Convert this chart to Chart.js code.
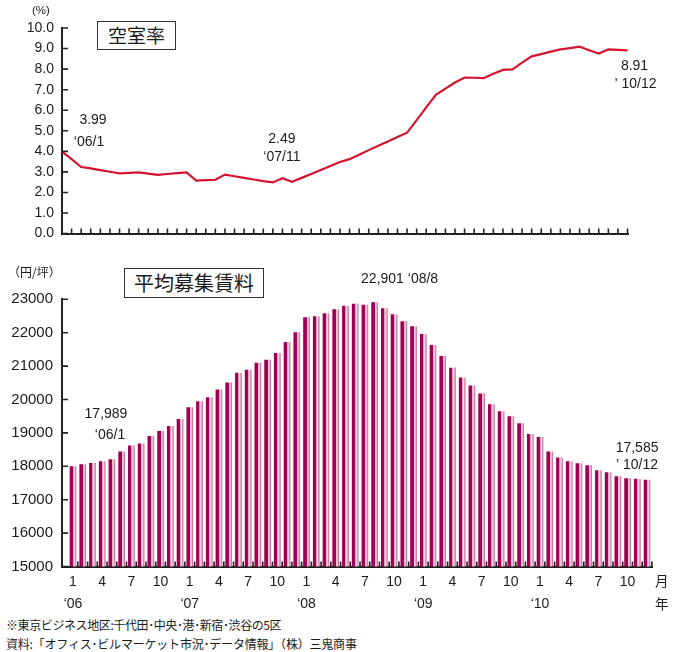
<!DOCTYPE html>
<html lang="ja">
<head>
<meta charset="utf-8">
<title>空室率・平均募集賃料</title>
<script src="https://cdn.jsdelivr.net/npm/chart.js@4"></script>
<style>
    body { margin:0; background:#fff; width:678px; height:652px; position:relative; overflow:hidden;
           font-family:"Liberation Sans", Arial, sans-serif; color:#1a1a1a; }
    canvas { position:absolute; left:0; }
    #vac-chart  { top:0; }
    #rent-chart { top:255px; }
    .txt  { position:absolute; white-space:nowrap; line-height:1; }
    .jp   { font-family:"Noto Sans CJK JP", sans-serif; }
    .box  { position:absolute; box-sizing:border-box; border:1.5px solid #333; background:#fff;
            font-family:"Noto Sans CJK JP", sans-serif; text-align:center; }
</style>
</head>
<body>

<canvas id="vac-chart"  width="678" height="250"></canvas>
<canvas id="rent-chart" width="678" height="360"></canvas>

<div class="txt" style="left:32px; top:5px; font-size:11.5px;">(%)</div>
<div class="box" style="left:97px; top:21px; width:79px; height:29px; font-size:19px; line-height:26px;">空室率</div>

<div class="txt jp" style="left:8px; top:266px; font-size:12px;">（円/坪）</div>
<div class="box" style="left:124px; top:268px; width:140px; height:30px; font-size:20px; line-height:27px;">平均募集賃料</div>

<div class="txt jp" style="left:655px; top:574px; font-size:13.5px;">月</div>
<div class="txt jp" style="left:655px; top:597px; font-size:13.5px;">年</div>

<div class="txt jp" style="left:6px; top:619px; font-size:12px; letter-spacing:-0.4px;">※東京ビジネス地区:千代田･中央･港･新宿･渋谷の5区</div>
<div class="txt jp" style="left:6px; top:638px; font-size:12px; letter-spacing:-0.2px;">資料:「オフィス･ビルマーケット市況･データ情報」（株）三鬼商事</div>

<script>
// ── Periods: '06/1 … '10/12 ──
const years   = ['06', '07', '08', '09', '10'];
const months  = [1, 2, 3, 4, 5, 6, 7, 8, 9, 10, 11, 12];
const periods = years.flatMap(y => months.map(m => ({ y, m })));

// 空室率 (%)
const vacancy = [
    3.99, 3.62, 3.24, 3.17, 3.09, 3.01, 2.93, 2.95, 2.98, 2.92, 2.86, 2.90,
    2.94, 2.98, 2.58, 2.60, 2.62, 2.87, 2.79, 2.71, 2.63, 2.55, 2.49, 2.69,
    2.52, 2.71, 2.90, 3.09, 3.29, 3.48, 3.62, 3.84, 4.06, 4.27, 4.48, 4.70,
    4.91, 5.52, 6.14, 6.75, 7.05, 7.35, 7.59, 7.58, 7.56, 7.78, 7.96, 7.99,
    8.32, 8.62, 8.73, 8.85, 8.96, 9.02, 9.09, 8.92, 8.76, 8.96, 8.94, 8.91,
];

// 平均募集賃料 (円/坪)
const rent = [
    17989, 18050, 18090, 18140, 18200, 18430, 18610, 18670, 18900, 19050, 19200, 19410,
    19760, 19940, 20060, 20290, 20500, 20790, 20880, 21090, 21180, 21380, 21710, 22000,
    22450, 22480, 22570, 22690, 22800, 22860, 22830, 22901, 22720, 22540, 22330, 22180,
    21950, 21620, 21290, 20940, 20650, 20410, 20170, 19850, 19640, 19490, 19280, 18960,
    18870, 18430, 18250, 18140, 18080, 18020, 17870, 17810, 17690, 17630, 17620, 17585,
];

// axis ranges / label positions
const vacancyRange = [0, 10, 1];
const rentRange    = [15000, 23000, 1000];
const monthLabelIdx = [0, 3, 6, 9, 12, 15, 18, 21, 24, 27, 30, 33, 36, 39, 42, 45, 48, 51, 54, 57];

const AXIS = '#222';
const LINE = '#d2142f';
const TEXT = '#1a1a1a';

Chart.defaults.font.family = '"Liberation Sans", Arial, sans-serif';
Chart.defaults.color = TEXT;
Chart.defaults.animation = false;

const periodText = (i, lead = '\u2018') => `${lead}${periods[i].y}/${periods[i].m}`;

// ── Plugins ──
// short tick marks pointing into the plot
const innerTicks = {
    id: 'innerTicks',
    afterDraw(chart, args, opts) {
        const { ctx, chartArea: a, scales: { x, y } } = chart;
        ctx.save();
        ctx.strokeStyle = AXIS;
        ctx.lineWidth = 1.6;
        ctx.beginPath();
        y.ticks.forEach(t => {
            const py = y.getPixelForValue(t.value);
            ctx.moveTo(a.left, py);
            ctx.lineTo(a.left + 6, py);
        });
        opts.xMarks.forEach(v => {
            const px = x.getPixelForValue(v);
            ctx.moveTo(px, a.bottom);
            ctx.lineTo(px, a.bottom - 5);
        });
        ctx.stroke();
        ctx.restore();
    },
};

// value / period callouts next to chosen points
const callouts = {
    id: 'callouts',
    afterDraw(chart, args, opts) {
        const { ctx, scales: { x, y } } = chart;
        const pts = chart.data.datasets[0].data;
        ctx.save();
        ctx.font = '14px "Liberation Sans", Arial, sans-serif';
        ctx.fillStyle = TEXT;
        ctx.textAlign = 'center';
        ctx.textBaseline = 'middle';
        opts.notes.forEach(n => {
            const px = x.getPixelForValue(n.i);
            const py = y.getPixelForValue(pts[n.i].y);
            n.lines.forEach(l => ctx.fillText(l.text, px + l.dx, py + l.dy));
        });
        ctx.restore();
    },
};

// ── 空室率 ──
new Chart(document.getElementById('vac-chart'), {
    type: 'line',
    data: {
        datasets: [{
            data: vacancy.map((v, i) => ({ x: i, y: v })),
            borderColor: LINE,
            borderWidth: 2.2,
            pointRadius: 0,
            tension: 0,
        }],
    },
    options: {
        responsive: false,
        layout: { padding: { top: 28, right: 50, left: 0, bottom: 0 } },
        plugins: {
            legend: { display: false },
            tooltip: { enabled: false },
            innerTicks: { xMarks: periods.map((p, i) => i).slice(1) },
            callouts: {
                notes: [
                    { i: 0,  lines: [{ text: vacancy[0].toFixed(2),  dx: 31, dy: -31 }, { text: periodText(0),  dx: 27, dy: -9 }] },
                    { i: 22, lines: [{ text: vacancy[22].toFixed(2), dx: 9,  dy: -43 }, { text: periodText(22), dx: 9,  dy: -25 }] },
                    { i: 59, lines: [{ text: vacancy[59].toFixed(2), dx: 7,  dy: 16 },  { text: periodText(59, '\u2019 '), dx: 8, dy: 34 }] },
                ],
            },
        },
        scales: {
            x: {
                type: 'linear', min: 0, max: 59.05, offset: false,
                grid: { display: false, drawTicks: false },
                ticks: { display: false },
                border: { color: AXIS, width: 2 },
                afterFit: s => { s.height = 13; },
            },
            y: {
                min: vacancyRange[0], max: vacancyRange[1],
                grid: { display: false, drawTicks: false },
                border: { color: AXIS, width: 2 },
                ticks: { stepSize: vacancyRange[2], padding: 8, font: { size: 14 }, callback: v => v.toFixed(1) },
                afterFit: s => { s.width = 62; },
            },
        },
    },
    plugins: [innerTicks, callouts],
});

// ── 平均募集賃料 ──
// two-tone bar: dark magenta left half, light pink right half with a highlight
function barFill(c) {
    const xs = c.chart.scales.x;
    const cx = xs && c.parsed ? xs.getPixelForValue(c.parsed.x) : NaN;
    if (!Number.isFinite(cx)) return '#ab005c';
    const g = c.chart.ctx.createLinearGradient(cx - 3, 0, cx + 3, 0);
    g.addColorStop(0,    '#98004f');
    g.addColorStop(0.5,  '#ab005c');
    g.addColorStop(0.5,  '#df94b6');
    g.addColorStop(0.72, '#f6dbe7');
    g.addColorStop(1,    '#c56a95');
    return g;
}

new Chart(document.getElementById('rent-chart'), {
    type: 'bar',
    data: {
        datasets: [{
            data: rent.map((v, i) => ({ x: i, y: v })),
            backgroundColor: barFill,
            barThickness: 6,
        }],
    },
    options: {
        responsive: false,
        layout: { padding: { top: 44.3, right: 26, left: 0, bottom: 0 } },
        plugins: {
            legend: { display: false },
            tooltip: { enabled: false },
            innerTicks: { xMarks: periods.map((p, i) => i + 0.5) },
            callouts: {
                notes: [
                    { i: 0,  lines: [{ text: rent[0].toLocaleString('en-US'), dx: 33, dy: -53 }, { text: periodText(0), dx: 37, dy: -32 }] },
                    { i: 31, lines: [{ text: `${rent[31].toLocaleString('en-US')} ${periodText(31)}`, dx: 25, dy: -23 }] },
                    { i: 59, lines: [{ text: rent[59].toLocaleString('en-US'), dx: -10, dy: -32 }, { text: periodText(59, '\u2019 '), dx: -10, dy: -15 }] },
                ],
            },
        },
        scales: {
            x: {
                type: 'linear', min: -1.13, max: 59.51, offset: false,
                grid: { display: false, drawTicks: false, offset: false },
                border: { color: AXIS, width: 2 },
                afterBuildTicks: s => { s.ticks = monthLabelIdx.map(v => ({ value: v })); },
                ticks: {
                    autoSkip: false, maxRotation: 0, padding: 4,
                    font: { size: 14, lineHeight: 1.6 },
                    callback: v => {
                        const p = periods[v];
                        return p.m === 1 ? [String(p.m), '\u2018' + p.y] : [String(p.m), ''];
                    },
                },
                afterFit: s => { s.height = 48.5; },
            },
            y: {
                min: rentRange[0], max: rentRange[1],
                grid: { display: false, drawTicks: false },
                border: { color: AXIS, width: 2 },
                ticks: { stepSize: rentRange[2], padding: 9, font: { size: 15 }, callback: v => String(v) },
                afterFit: s => { s.width = 62; },
            },
        },
    },
    plugins: [innerTicks, callouts],
});
</script>
</body>
</html>
